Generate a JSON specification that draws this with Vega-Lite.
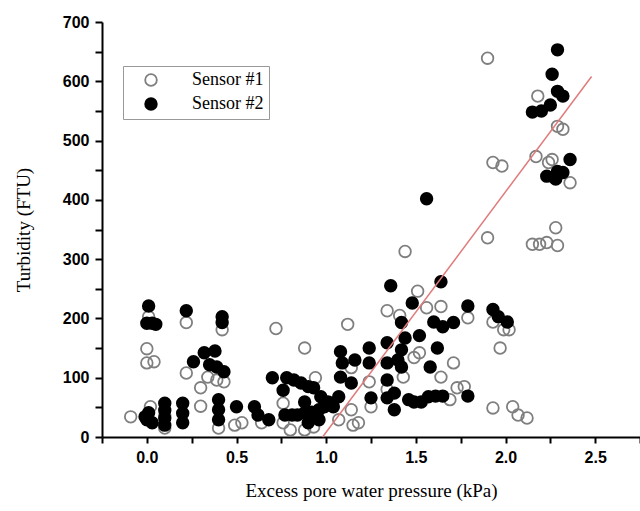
{
  "$schema": "https://vega.github.io/schema/vega-lite/v6.json",
  "width": 538,
  "height": 415,
  "autosize": "none",
  "padding": {"left": 102, "top": 22, "right": 0, "bottom": 74},
  "background": "white",
  "config": {"view": {"stroke": null}},
  "datasets": {
    "s1": [
      {"p": -0.09, "t": 34}, {"p": 0.01, "t": 203}, {"p": 0.0, "t": 149}, {"p": 0.0, "t": 125}, {"p": 0.04, "t": 127},
      {"p": 0.02, "t": 51}, {"p": 0.1, "t": 15}, {"p": 0.1, "t": 35}, {"p": 0.22, "t": 193}, {"p": 0.22, "t": 108},
      {"p": 0.3, "t": 83}, {"p": 0.34, "t": 101}, {"p": 0.39, "t": 96}, {"p": 0.43, "t": 93}, {"p": 0.3, "t": 52},
      {"p": 0.42, "t": 181}, {"p": 0.4, "t": 15}, {"p": 0.49, "t": 20}, {"p": 0.53, "t": 24}, {"p": 0.64, "t": 24},
      {"p": 0.72, "t": 183}, {"p": 0.88, "t": 150}, {"p": 1.12, "t": 190}, {"p": 0.94, "t": 100},
      {"p": 0.76, "t": 24}, {"p": 0.8, "t": 12}, {"p": 0.88, "t": 12}, {"p": 0.93, "t": 17}, {"p": 1.07, "t": 29},
      {"p": 1.15, "t": 20}, {"p": 1.18, "t": 24}, {"p": 1.14, "t": 46}, {"p": 0.76, "t": 57}, {"p": 1.14, "t": 117},
      {"p": 1.24, "t": 93}, {"p": 1.25, "t": 51}, {"p": 1.34, "t": 80}, {"p": 1.51, "t": 246}, {"p": 1.44, "t": 313},
      {"p": 1.34, "t": 213}, {"p": 1.41, "t": 205}, {"p": 1.56, "t": 218}, {"p": 1.64, "t": 220},
      {"p": 1.49, "t": 134}, {"p": 1.52, "t": 142}, {"p": 1.71, "t": 125}, {"p": 1.64, "t": 101}, {"p": 1.43, "t": 101},
      {"p": 1.69, "t": 63}, {"p": 1.73, "t": 83}, {"p": 1.77, "t": 85}, {"p": 1.79, "t": 201},
      {"p": 1.93, "t": 194}, {"p": 1.99, "t": 181}, {"p": 2.02, "t": 181}, {"p": 1.97, "t": 150},
      {"p": 1.93, "t": 49}, {"p": 2.04, "t": 51}, {"p": 2.07, "t": 37}, {"p": 2.12, "t": 32},
      {"p": 2.18, "t": 575}, {"p": 1.9, "t": 639}, {"p": 2.29, "t": 524}, {"p": 2.32, "t": 519},
      {"p": 2.17, "t": 473}, {"p": 2.26, "t": 468}, {"p": 2.24, "t": 463}, {"p": 2.36, "t": 429},
      {"p": 1.93, "t": 463}, {"p": 1.98, "t": 457}, {"p": 1.9, "t": 336}, {"p": 2.28, "t": 353},
      {"p": 2.15, "t": 325}, {"p": 2.19, "t": 325}, {"p": 2.23, "t": 328}, {"p": 2.29, "t": 323}
    ],
    "s2": [
      {"p": 0.01, "t": 221}, {"p": 0.0, "t": 192}, {"p": 0.03, "t": 192}, {"p": 0.05, "t": 190},
      {"p": 0.01, "t": 41}, {"p": 0.0, "t": 29}, {"p": 0.03, "t": 24}, {"p": -0.01, "t": 34},
      {"p": 0.1, "t": 57}, {"p": 0.1, "t": 45}, {"p": 0.1, "t": 32}, {"p": 0.1, "t": 20},
      {"p": 0.2, "t": 57}, {"p": 0.2, "t": 40}, {"p": 0.2, "t": 24}, {"p": 0.22, "t": 213},
      {"p": 0.26, "t": 127}, {"p": 0.32, "t": 142}, {"p": 0.38, "t": 145}, {"p": 0.35, "t": 122},
      {"p": 0.39, "t": 118}, {"p": 0.43, "t": 110}, {"p": 0.42, "t": 203}, {"p": 0.42, "t": 193},
      {"p": 0.4, "t": 63}, {"p": 0.4, "t": 46}, {"p": 0.4, "t": 29}, {"p": 0.5, "t": 51},
      {"p": 0.6, "t": 51}, {"p": 0.62, "t": 37}, {"p": 0.68, "t": 29},
      {"p": 0.7, "t": 100}, {"p": 0.78, "t": 100}, {"p": 0.76, "t": 79},
      {"p": 0.82, "t": 96}, {"p": 0.86, "t": 91}, {"p": 0.9, "t": 85}, {"p": 0.93, "t": 83},
      {"p": 0.77, "t": 37}, {"p": 0.81, "t": 37}, {"p": 0.84, "t": 37}, {"p": 0.88, "t": 41}, {"p": 0.92, "t": 42},
      {"p": 0.96, "t": 46}, {"p": 0.99, "t": 51}, {"p": 1.03, "t": 57}, {"p": 1.07, "t": 68},
      {"p": 0.88, "t": 59}, {"p": 0.97, "t": 68}, {"p": 1.01, "t": 59}, {"p": 1.04, "t": 51},
      {"p": 0.96, "t": 29}, {"p": 0.9, "t": 24},
      {"p": 1.08, "t": 144}, {"p": 1.16, "t": 130}, {"p": 1.09, "t": 125}, {"p": 1.08, "t": 101}, {"p": 1.14, "t": 91},
      {"p": 1.24, "t": 150}, {"p": 1.24, "t": 125}, {"p": 1.25, "t": 66},
      {"p": 1.36, "t": 255}, {"p": 1.64, "t": 262}, {"p": 1.48, "t": 226},
      {"p": 1.42, "t": 193}, {"p": 1.44, "t": 167}, {"p": 1.34, "t": 159}, {"p": 1.42, "t": 147},
      {"p": 1.4, "t": 130}, {"p": 1.34, "t": 125}, {"p": 1.42, "t": 118}, {"p": 1.52, "t": 171},
      {"p": 1.6, "t": 194}, {"p": 1.65, "t": 186}, {"p": 1.71, "t": 193}, {"p": 1.62, "t": 150}, {"p": 1.58, "t": 118},
      {"p": 1.34, "t": 96}, {"p": 1.34, "t": 66}, {"p": 1.38, "t": 74}, {"p": 1.38, "t": 46},
      {"p": 1.46, "t": 63}, {"p": 1.49, "t": 59}, {"p": 1.53, "t": 59}, {"p": 1.57, "t": 68}, {"p": 1.61, "t": 69}, {"p": 1.65, "t": 69},
      {"p": 1.79, "t": 69}, {"p": 1.79, "t": 221}, {"p": 1.56, "t": 402},
      {"p": 1.93, "t": 215}, {"p": 1.96, "t": 203}, {"p": 2.01, "t": 194},
      {"p": 2.29, "t": 653}, {"p": 2.26, "t": 612}, {"p": 2.29, "t": 583}, {"p": 2.32, "t": 575},
      {"p": 2.25, "t": 560}, {"p": 2.2, "t": 550}, {"p": 2.15, "t": 548}, {"p": 2.36, "t": 468},
      {"p": 2.23, "t": 440}, {"p": 2.28, "t": 435}, {"p": 2.32, "t": 446}, {"p": 2.29, "t": 448}
    ],
    "fit": [{"p": 0.98, "t": 0}, {"p": 2.48, "t": 608}]
  },
  "layer": [
    {
      "data": {"name": "s1"},
      "transform": [{"calculate": "'Sensor #1'", "as": "sensor"}],
      "mark": {"type": "point", "shape": "circle", "size": 135, "strokeWidth": 1.8, "opacity": 1, "filled": true},
      "encoding": {
        "fill": {
          "field": "sensor", "type": "nominal",
          "scale": {"domain": ["Sensor #1", "Sensor #2"], "range": ["transparent", "black"]},
          "legend": {
            "title": null,
            "orient": "none", "legendX": 21, "legendY": 44,
            "fillColor": "white", "strokeColor": "#999", "padding": 5,
            "symbolSize": 135, "symbolStrokeWidth": 1.8, "symbolOffset": 14,
            "labelFont": "Liberation Serif", "labelFontSize": 18, "labelColor": "black", "labelOffset": 32,
            "labelExpr": "datum.label + '\u00a0\u00a0\u00a0\u00a0\u00a0\u00a0\u00a0\u00a0\u00a0\u00a0\u00a0\u00a0\u00a0\u00a0\u00a0\u00a0\u00a0\u00a0\u00a0\u00a0\u00a0\u00a0\u00a0\u00a0\u00a0\u00a0'",
            "rowPadding": 4
          }
        },
        "stroke": {
          "field": "sensor", "type": "nominal",
          "scale": {"domain": ["Sensor #1", "Sensor #2"], "range": ["#7f7f7f", "black"]},
          "legend": {
            "title": null,
            "orient": "none", "legendX": 21, "legendY": 44,
            "fillColor": "white", "strokeColor": "#999", "padding": 5,
            "symbolSize": 135, "symbolStrokeWidth": 1.8, "symbolOffset": 14,
            "labelFont": "Liberation Serif", "labelFontSize": 18, "labelColor": "black", "labelOffset": 32,
            "labelExpr": "datum.label + '\u00a0\u00a0\u00a0\u00a0\u00a0\u00a0\u00a0\u00a0\u00a0\u00a0\u00a0\u00a0\u00a0\u00a0\u00a0\u00a0\u00a0\u00a0\u00a0\u00a0\u00a0\u00a0\u00a0\u00a0\u00a0\u00a0'",
            "rowPadding": 4
          }
        }
      }
    },
    {
      "data": {"name": "s2"},
      "transform": [{"calculate": "'Sensor #2'", "as": "sensor"}],
      "mark": {"type": "point", "shape": "circle", "size": 135, "strokeWidth": 1.8, "opacity": 1, "filled": true},
      "encoding": {
        "fill": {"field": "sensor", "type": "nominal"},
        "stroke": {"field": "sensor", "type": "nominal"}
      }
    },
    {
      "data": {"name": "fit"},
      "mark": {"type": "line", "color": "#e07b7b", "strokeWidth": 1.5},
      "encoding": {}
    }
  ],
  "encoding": {
    "x": {
      "field": "p", "type": "quantitative",
      "scale": {"domain": [-0.25, 2.75], "nice": false, "zero": false},
      "axis": {
        "title": "Excess pore water pressure (kPa)",
        "values": [-0.25, 0, 0.25, 0.5, 0.75, 1, 1.25, 1.5, 1.75, 2, 2.25, 2.5, 2.75],
        "format": ".1f",
        "labelExpr": "datum.value % 0.5 === 0 ? datum.label : ''",
        "grid": false,
        "domainColor": "black", "domainWidth": 2,
        "tickColor": "black", "tickWidth": 2, "tickSize": 6,
        "labelFont": "Liberation Sans", "labelFontWeight": "bold", "labelFontSize": 16, "labelColor": "black", "labelPadding": 6,
        "titleFont": "Liberation Serif", "titleFontWeight": "normal", "titleFontSize": 19, "titleColor": "black", "titlePadding": 16
      }
    },
    "y": {
      "field": "t", "type": "quantitative",
      "scale": {"domain": [0, 700], "nice": false},
      "axis": {
        "title": "Turbidity (FTU)",
        "values": [0, 50, 100, 150, 200, 250, 300, 350, 400, 450, 500, 550, 600, 650, 700],
        "labelExpr": "datum.value % 100 === 0 ? datum.label : ''",
        "grid": false,
        "domainColor": "black", "domainWidth": 2,
        "tickColor": "black", "tickWidth": 2, "tickSize": 7,
        "labelFont": "Liberation Sans", "labelFontWeight": "bold", "labelFontSize": 16, "labelColor": "black", "labelPadding": 6,
        "titleFont": "Liberation Serif", "titleFontWeight": "normal", "titleFontSize": 19, "titleColor": "black", "titlePadding": 29
      }
    }
  }
}
